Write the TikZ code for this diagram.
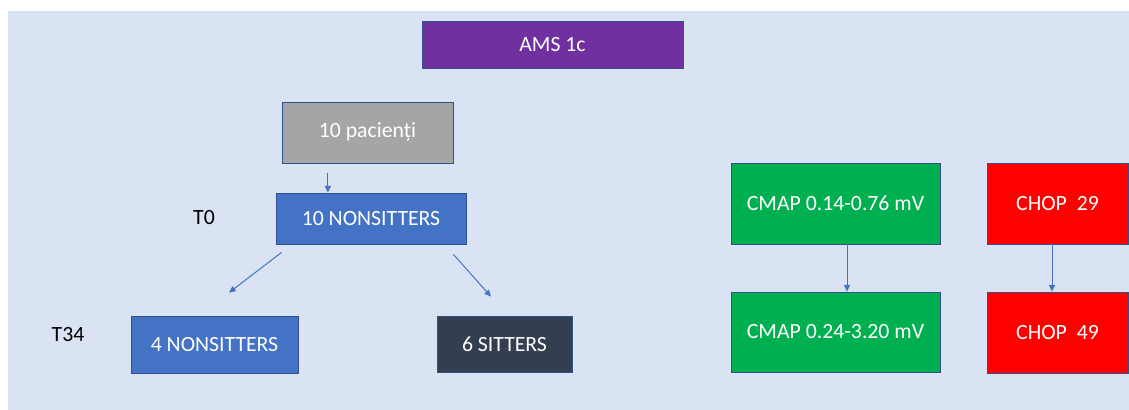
\documentclass[tikz,border=0pt]{standalone}
\usepackage{fontspec}
\setmainfont{Carlito}
\usetikzlibrary{calc,arrows.meta}

\definecolor{bgblue}{HTML}{DAE3F3}
\definecolor{purplebox}{HTML}{7030A0}
\definecolor{graybox}{HTML}{A5A5A5}
\definecolor{bluebox}{HTML}{4472C4}
\definecolor{darkbox}{HTML}{333F50}
\definecolor{greenbox}{HTML}{00B050}
\definecolor{redbox}{HTML}{FF0000}
\definecolor{edge}{HTML}{2F528F}
\definecolor{arrowblue}{HTML}{4472C4}

\tikzset{
  box/.style={draw=edge, line width=0.6pt, rectangle, inner sep=0pt,
    text=white, font=\fontsize{16.3pt}{19pt}\selectfont},
  lbl/.style={text=black, font=\fontsize{16.3pt}{19pt}\selectfont, inner sep=0pt},
  arr/.style={draw=arrowblue, line width=0.75pt,
    -{Triangle[length=5pt,width=4.5pt]}}
}

\begin{document}
\begin{tikzpicture}[x=0.75pt,y=-0.75pt]
  % canvas and background panel
  \useasboundingbox (0,0) rectangle (1129,410);
  \fill[white] (0,0) rectangle (1129,410);
  \fill[bgblue] (8,11) rectangle (1129,410);

  % title
  \node[box, fill=purplebox, minimum width=261*0.75pt, minimum height=47*0.75pt]
    (ams) at (552.5,44.5) {AMS 1c};

  % patient tree
  \node[box, fill=graybox, minimum width=171*0.75pt, minimum height=61*0.75pt]
    (pac) at (367.5,132.5) {10 pacienți};
  \node[box, fill=bluebox, minimum width=190*0.75pt, minimum height=51*0.75pt]
    (nons) at (371,218.5) {10 NONSITTERS};
  \node[box, fill=bluebox, minimum width=167*0.75pt, minimum height=57*0.75pt]
    (n4) at (214.5,344.5) {4 NONSITTERS};
  \node[box, fill=darkbox, minimum width=135*0.75pt, minimum height=56*0.75pt]
    (s6) at (504.5,344) {6 SITTERS};

  % time labels
  \node[lbl] (t0) at (204,217.5) {T0};
  \node[lbl] (t34) at (68,335) {T34};

  % CMAP and CHOP
  \node[box, fill=greenbox, minimum width=209*0.75pt, minimum height=81*0.75pt]
    (cm1) at (835.5,203.5) {CMAP 0.14-0.76 mV};
  \node[box, fill=greenbox, minimum width=209*0.75pt, minimum height=80*0.75pt]
    (cm2) at (835.5,332) {CMAP 0.24-3.20 mV};
  \node[box, fill=redbox, minimum width=141*0.75pt, minimum height=81*0.75pt]
    (ch1) at (1057.5,203.5) {CHOP\ \ 29};
  \node[box, fill=redbox, minimum width=141*0.75pt, minimum height=81*0.75pt]
    (ch2) at (1057.5,332.5) {CHOP\ \ 49};

  % connectors
  \coordinate (a1) at ($(nons.north west)!0.274!(nons.north east)$);
  \draw[arr] ($(a1)+(0,-20)$) -- (a1);
  \draw[arr] ($(nons.south west)+(6,8)$) -- ($(n4.north)+(14.5,-23)$);
  \draw[arr] ($(nons.south east)+(-13,10)$) -- ($(s6.north)+(-13.5,-19)$);
  \draw[arr] ($(cm1.south)+(11.5,-5)$) -- ($(cm2.north)+(11.5,0)$);
  \draw[arr] ($(ch1.south)+(-5.5,0)$) -- ($(ch2.north)+(-5.5,0)$);
\end{tikzpicture}
\end{document}
